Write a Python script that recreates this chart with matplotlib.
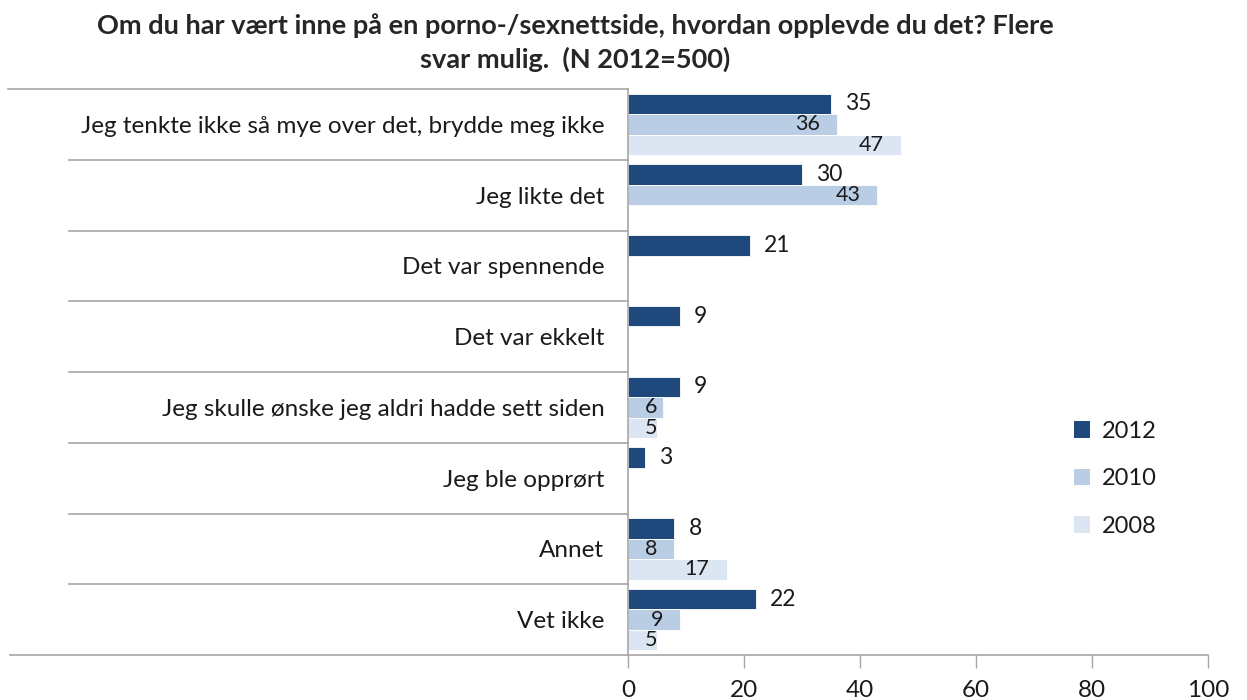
import numpy as np
import matplotlib
matplotlib.use("Agg")
import matplotlib.pyplot as plt
from matplotlib.transforms import blended_transform_factory

plt.rcParams['font.family'] = ['Lato', 'DejaVu Sans']

# data
categories = [
    "Jeg tenkte ikke så mye over det, brydde meg ikke",
    "Jeg likte det",
    "Det var spennende",
    "Det var ekkelt",
    "Jeg skulle ønske jeg aldri hadde sett siden",
    "Jeg ble opprørt",
    "Annet",
    "Vet ikke",
]
years = ["2012", "2010", "2008"]
v2012 = [35, 30, 21, 9, 9, 3, 8, 22]
v2010 = [36, 43, None, None, 6, None, 8, 9]
v2008 = [47, None, None, None, 5, None, 17, 5]
colors = ["#1F497D", "#B9CDE5", "#DCE6F2"]

title = "Om du har vært inne på en porno-/sexnettside, hvordan opplevde du det? Flere\nsvar mulig.  (N 2012=500)"

fig = plt.figure(figsize=(12.47, 7), dpi=100)
ax = fig.add_axes([628 / 1247, 1 - 655 / 700, 580 / 1247, 566 / 700])

y = np.arange(len(categories))
bar_h = 0.29
text_col = "#1a1a1a"
line_col = "#A6A6A6"

series = [v2012, v2010, v2008]
for k, vals in enumerate(series):
    pos = y + (k - 1) * bar_h
    for yy, v in zip(pos, vals):
        if v is None:
            continue
        ax.barh(yy, v, height=bar_h, color=colors[k], edgecolor="white", linewidth=0.6)
        if k == 0:
            # label outside end
            ax.annotate(str(v), (v, yy), xytext=(14, 0), textcoords="offset pixels",
                        ha="left", va="center", fontsize=16.5, color=text_col)
        elif v >= 8:
            # label inside end
            ax.annotate(str(v), (v, yy), xytext=(-17, 0), textcoords="offset pixels",
                        ha="right", va="center", fontsize=15.5, color=text_col)
        else:
            ax.annotate(str(v), (0, yy), xytext=(17, 0), textcoords="offset pixels",
                        ha="left", va="center", fontsize=15.5, color=text_col)

# legend entries
for k, yr in enumerate(years):
    ax.barh(np.nan, 0, color=colors[k], label=yr)

ax.set_xlim(0, 100)
ax.set_ylim(len(categories) - 0.5, -0.5)
ax.set_xticks(range(0, 101, 20))
ax.set_yticks(y)
ax.set_yticklabels(categories)
ax.tick_params(axis="y", length=0, pad=17, labelsize=17.5, labelcolor=text_col)
ax.tick_params(axis="x", length=9, width=1, color=line_col, pad=9,
               labelsize=17.5, labelcolor=text_col)

for s in ["top", "right"]:
    ax.spines[s].set_visible(False)
for s in ["left", "bottom"]:
    ax.spines[s].set_color(line_col)
    ax.spines[s].set_linewidth(1.2)

# category separators extending into the label area
trans = blended_transform_factory(fig.transFigure, ax.transData)
for i in range(len(categories) + 1):
    yb = i - 0.5
    if i == 0:
        x0 = 8 / 1247
    elif i == len(categories):
        x0 = 10 / 1247
    else:
        x0 = 69 / 1247
    ax.plot([x0, 628 / 1247], [yb, yb], transform=trans, color=line_col,
            linewidth=1.2, clip_on=False)

handles, labels = ax.get_legend_handles_labels()
fig.legend(handles, labels, loc="upper left", bbox_to_anchor=(1062 / 1247, 1 - 409 / 700),
           frameon=False, fontsize=17, handlelength=0.7, handleheight=0.7,
           handletextpad=0.5, labelspacing=1.12, borderpad=0, labelcolor=text_col)

fig.text(575 / 1247, 1 - 13 / 700, title, ha="center", va="top", fontsize=19.5,
         fontweight="bold", color="#262626", linespacing=1.4)

fig.savefig("out.png", dpi=100)
